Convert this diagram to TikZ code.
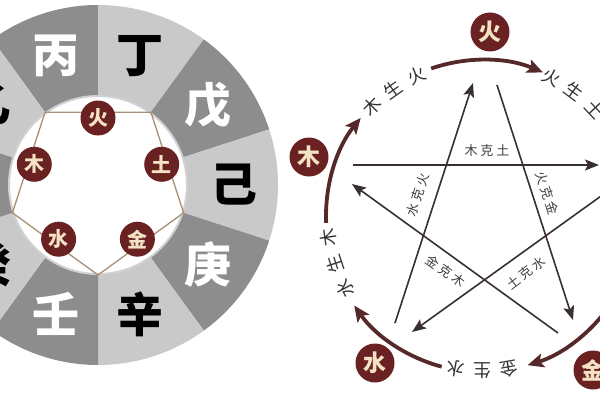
\documentclass[tikz,border=0pt]{standalone}
\usepackage{fontspec}
\setmainfont{Noto Sans CJK SC}
\usepackage{tikz}
\usetikzlibrary{arrows.meta,calc}

\definecolor{darkseg}{HTML}{8D8D8D}
\definecolor{lightseg}{HTML}{C9C9C9}
\definecolor{elemred}{HTML}{6A2122}
\definecolor{elemtext}{HTML}{F3E2C3}
\definecolor{pentaline}{HTML}{A88E72}
\definecolor{ringbrown}{HTML}{55282A}
\definecolor{starline}{HTML}{3A2F30}

\newcommand{\kelbl}[3]{#1\hspace{3pt}#2\hspace{3pt}#3}

\begin{document}
\begin{tikzpicture}[x=1pt,y=1pt,
	gan/.style={font=\bfseries\fontsize{47}{47}\selectfont, inner sep=0pt},
	elem/.style={circle, fill=elemred, minimum size=35pt, inner sep=0pt, text=elemtext, font=\bfseries\fontsize{20}{20}\selectfont},
	bigelem/.style={elem, minimum size=39pt, font=\bfseries\fontsize{23}{23}\selectfont},
	ke/.style={draw=starline, line width=1.6pt, -{Stealth[length=14pt,width=11pt,inset=3pt]}},
	sheng/.style={draw=ringbrown, line width=3.8pt, -{Stealth[length=16pt,width=14pt,inset=3.5pt]}},
	kelabel/.style={text=black!75, font=\fontsize{13}{13}\selectfont, inner sep=1pt},
	shlabel/.style={text=black!80, font=\fontsize{18}{18}\selectfont, inner sep=0pt}
	]
	\useasboundingbox (0,0) rectangle (600,400);
	\clip (0,0) rectangle (600,400);
	\fill[white] (0,0) rectangle (600,400);

	% ten stems wheel
	\coordinate (wheel) at (98,215);
	\foreach \a/\t/\c/\f [count=\n] in {108/丙/darkseg/white, 72/丁/lightseg/black, 36/戊/darkseg/white, 0/己/lightseg/black, -36/庚/darkseg/white, -72/辛/lightseg/black, -108/壬/darkseg/white, -144/癸/lightseg/black, 180/{}/darkseg/white, 144/乙/lightseg/black} {
		\fill[\c] (wheel) -- ++(\a-18:180) arc[start angle=\a-18, end angle=\a+18, radius=180] -- cycle;
		\node[gan, text=\f] (gan\n) at ($(wheel)+(\a:136)$) {\t};
	}
	\fill[white] (wheel) circle[radius=89];
	\draw[black!18, line width=2pt] (wheel) circle[radius=89];

	% pentagon and elements
	\foreach \k in {0,...,4}
		\coordinate (p\k) at ($(wheel)+(54+72*\k:90)$);
	\draw[pentaline, line width=1.3pt] (p0) -- (p1) -- (p2) -- (p3) -- (p4) -- cycle;
	\foreach \a/\t/\nm in {90/火/whuo, 18/土/wtu, -54/金/wjin, -126/水/wshui, 162/木/wmu}
		\node[elem] (\nm) at ($(wheel)+(\a:67)$) {\t};

	% five elements, right
	\node[bigelem] (huo) at (490,368) {火};
	\node[bigelem] (mu) at (309,243) {木};
	\node[bigelem] (shui) at (375,37) {水};
	\node[bigelem] (jin) at (593,30) {金};

	% generating ring
	\coordinate (ring) at (482,184);
	\foreach \s/\e in {109/67, 182.5/141, 255/215, 327/287}
		\draw[sheng] ($(ring)+(\s:156)$) arc[start angle=\s, end angle=\e, radius=156];
	\foreach \p/\txt in {125/{木,生,火}, 53.5/{火,生,土}, 198/{水,生,木}, 270/{金,生,水}} {
		\foreach \ch [count=\i, evaluate=\i as \q using \p+20-10*\i] in \txt
			\node[shlabel, rotate=\q-90] at ($(ring)+(\q:155)$) {\ch};
	}

	% overcoming star
	\coordinate (kmu) at (353,235);   \coordinate (ktu) at (599,235);
	\coordinate (kshui) at (395,77);  \coordinate (khuo) at (473,317);
	\coordinate (khuo2) at (497,315); \coordinate (kjin) at (573,80);
	\coordinate (kjin2) at (558,67);  \coordinate (kmu2) at (352,216);
	\coordinate (ktu2) at (640,232);  \coordinate (kshui2) at (412,68);
	\draw[ke] (kmu) -- (ktu);
	\draw[ke] (kshui) -- (khuo);
	\draw[ke] (khuo2) -- (kjin);
	\draw[ke] (kjin2) -- (kmu2);
	\draw[ke] (ktu2) -- (kshui2);

	\node[kelabel] (lmutu) at (487,249) {\kelbl{木}{克}{土}};
	\node[kelabel, rotate=72] (lshuihuo) at (418,205) {\kelbl{水}{克}{火}};
	\node[kelabel, rotate=-72] (lhuojin) at (547,207) {\kelbl{火}{克}{金}};
	\node[kelabel, rotate=-35] (ljinmu) at (446,129) {\kelbl{金}{克}{木}};
	\node[kelabel, rotate=37] (ltushui) at (526,127) {\kelbl{土}{克}{水}};
\end{tikzpicture}
\end{document}
